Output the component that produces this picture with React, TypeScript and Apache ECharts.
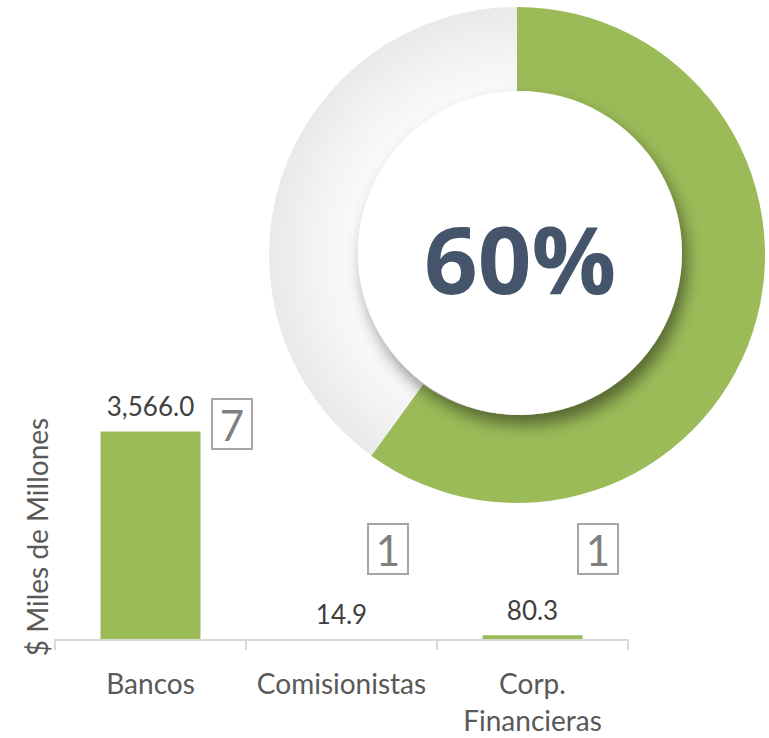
import React, { useEffect, useRef } from "react";
import * as echarts from "echarts";

const categories = ["Bancos", "Comisionistas", "Corp.\nFinancieras"];
const amounts = [3566.0, 14.9, 80.3];
const entityCounts = [7, 1, 1];
const shareLabels = ["Participación", "Resto"];
const shareValues = [60, 40];

const FONT = "Lato";
const GREEN = "#9bbb59";

// layout of the count boxes (pixels)
const boxPositions = [
  [232, 424],
  [388, 549],
  [598, 549],
];

export default function App() {
  const ref = useRef<HTMLDivElement>(null);

  useEffect(() => {
    document.body.style.margin = "0";
    if (!ref.current) return;
    const chart = echarts.init(ref.current, null, { renderer: "svg" });

    const pct = Math.round((shareValues[0] / (shareValues[0] + shareValues[1])) * 100);

    const boxes: any[] = entityCounts.map((c, i) => ({
      type: "group",
      x: boxPositions[i][0],
      y: boxPositions[i][1],
      z: 50,
      children: [
        {
          type: "rect",
          shape: { x: -20, y: -25, width: 40, height: 50 },
          style: { fill: "#fff", stroke: "#a6a6a6", lineWidth: 2 },
        },
        {
          type: "text",
          x: 0,
          y: 1,
          style: {
            text: String(c),
            fontFamily: FONT,
            fontSize: 42,
            fill: "#7f7f7f",
            align: "center",
            verticalAlign: "middle",
          },
        },
      ],
    }));

    chart.setOption({
      animation: false,
      grid: { left: 55, right: 141, top: 406, bottom: 92 },
      xAxis: {
        type: "category",
        data: categories,
        z: 5,
        axisLine: { lineStyle: { color: "#d9d9d9", width: 2 } },
        axisTick: { show: true, length: 10, lineStyle: { color: "#d9d9d9", width: 2 } },
        axisLabel: {
          color: "#595959",
          fontFamily: FONT,
          fontSize: 28,
          margin: 24,
          lineHeight: 37,
          interval: 0,
        },
      },
      yAxis: {
        type: "value",
        min: 0,
        max: 4000,
        show: false,
      },
      series: [
        {
          type: "bar",
          data: amounts,
          barWidth: 100,
          silent: true,
          itemStyle: { color: GREEN },
          label: {
            show: true,
            position: "top",
            distance: 12,
            color: "#404040",
            fontFamily: FONT,
            fontSize: 26,
            formatter: (p: any) =>
              Number(p.value).toLocaleString("en-US", {
                minimumFractionDigits: 1,
                maximumFractionDigits: 1,
              }),
          },
        },
        {
          type: "pie",
          center: [517, 255],
          radius: [160, 248],
          startAngle: 90,
          clockwise: true,
          silent: true,
          label: { show: false },
          labelLine: { show: false },
          itemStyle: { borderWidth: 0 },
          data: [
            { name: shareLabels[0], value: shareValues[0], itemStyle: { color: GREEN } },
            {
              name: shareLabels[1],
              value: shareValues[1],
              itemStyle: {
                color: {
                  type: "radial",
                  x: 517,
                  y: 255,
                  r: 248,
                  global: true,
                  colorStops: [
                    { offset: 0.6, color: "#fbfcfd" },
                    { offset: 0.8, color: "#f4f4f5" },
                    { offset: 1, color: "#e9e9e9" },
                  ],
                },
              },
            },
          ],
        },
      ],
      graphic: [
        {
          type: "circle",
          z: 40,
          shape: { cx: 520, cy: 253, r: 162 },
          style: {
            fill: "#ffffff",
            shadowBlur: 16,
            shadowColor: "rgba(0,0,0,0.45)",
            shadowOffsetX: 5,
            shadowOffsetY: 10,
          },
        },
        {
          type: "text",
          z: 45,
          x: 520,
          y: 258,
          style: {
            text: pct + "%",
            fontFamily: "Open Sans",
            fontWeight: "bold",
            fontSize: 94,
            fill: "#44546a",
            align: "center",
            verticalAlign: "middle",
          },
        },
        {
          type: "text",
          z: 45,
          x: 37,
          y: 537,
          rotation: Math.PI / 2,
          style: {
            text: "$ Miles de Millones",
            fontFamily: FONT,
            fontSize: 28,
            fill: "#595959",
            align: "center",
            verticalAlign: "middle",
          },
        },
        ...boxes,
      ],
    });

    return () => chart.dispose();
  }, []);

  return <div ref={ref} style={{ width: 769, height: 738 }} />;
}
